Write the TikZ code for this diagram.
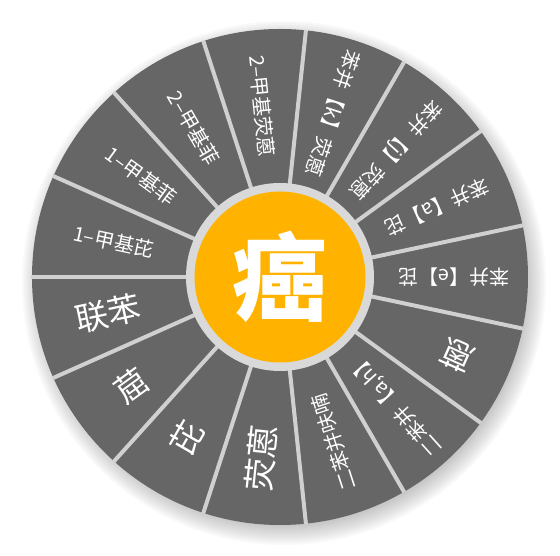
\documentclass[tikz,border=0pt]{standalone}
\usepackage{fontspec}
\newfontfamily\cjk{Noto Sans CJK SC}
\definecolor{WheelInk}{HTML}{FFFFFF}
\definecolor{WheelSlot}{HTML}{666666}
\definecolor{WheelRing}{HTML}{D9D9D9}
\definecolor{WheelSpoke}{HTML}{D0D0D0}
\definecolor{WheelCore}{HTML}{FFB300}
\tikzset{
  every node/.style={font=\cjk, text=WheelInk, inner sep=0pt},
  small/.style={font=\cjk\fontsize{20}{20}\selectfont},
  big/.style={font=\cjk\fontsize{33}{33}\selectfont},
  spoke/.style={draw=WheelSpoke, line width=4pt},
  haze/.style={fill=black, opacity=0.022},
}
\begin{document}
\begin{tikzpicture}[x=1pt,y=1pt]
  \useasboundingbox (-280,-279) rectangle (280,277);
  % soft shadow
  \foreach \k in {0,...,13}
    \fill[haze] (4,-6) circle ({236+2*\k});
  \fill[WheelSlot] (0,0) circle (248);
  \foreach \k in {0,...,14}
    \draw[spoke] (180+24*\k:90) -- (180+24*\k:248.5);
  \fill[WheelRing] (0,0) circle (94);
  \fill[WheelCore] (0,0) circle (85.5);
  \node[font=\cjk\bfseries\fontsize{95}{95}\selectfont] (core) at (0,0) {癌};
  \foreach \a/\t/\s/\r/\n in {96/2–甲基荧蒽/small/172/mfla, 72/苯并【k】荧蒽/small/172/bkf,
      48/苯并【j】荧蒽/small/172/bjf, 24/苯并【a】芘/small/172/bap, 0/苯并【e】芘/small/174/bep,
      -24/蒽/big/194/ant, {-48/二苯并【a,h】/small/172/dba}, -72/二苯并呋喃/small/174/dbf,
      -96/荧蒽/big/182/flu, -120/芘/big/186/pyr, -144/䓛/big/184/chr, -168/联苯/big/176/bip,
      168/1–甲基芘/small/170/mpy, 144/1–甲基菲/small/172/mph, 120/2–甲基菲/small/172/mphb}
    \node[\s, rotate=\a+180] (\n) at (\a:\r) {\t};
\end{tikzpicture}
\end{document}
